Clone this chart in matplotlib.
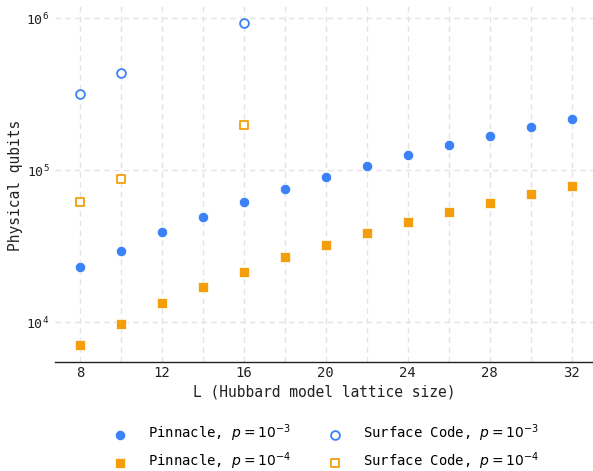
import math
import matplotlib
matplotlib.use("Agg")
import matplotlib.pyplot as plt
from matplotlib.ticker import FixedLocator, FuncFormatter, NullFormatter

plt.rcParams['font.family'] = ['DejaVu Sans Mono', 'DejaVu Sans']

L_all = [8, 10, 12, 14, 16, 18, 20, 22, 24, 26, 28, 30, 32]
pinnacle_e3 = [23200, 29600, 39300, 49100, 62200, 75000, 90800, 107200,
               126700, 146700, 169000, 191800, 217600]
pinnacle_e4 = [7060, 9790, 13400, 17000, 21500, 26900, 32300, 38700,
               45700, 52900, 60900, 70200, 79200]
L_surface = [8, 10, 16]
surface_e3 = [319000, 438600, 935000]
surface_e4 = [61900, 88100, 199500]

x_major = [8, 12, 16, 20, 24, 28, 32]
x_minor = [10, 14, 18, 22, 26, 30]
y_major = [1e4, 1e5, 1e6]

blue = '#3b82f6'
orange = '#f59e0b'

W, H = 593, 471
fig = plt.figure(figsize=(W / 100, H / 100), dpi=100)
ax = fig.add_axes([55 / W, 1 - 361.7 / H, 1 - 55 / W, (361.7 - 6) / H])

ax.scatter(L_all, pinnacle_e3, s=55, marker='o', color=blue, edgecolors='white',
           linewidths=0.5, label=r'Pinnacle, $p=10^{-3}$', zorder=3)
ax.scatter(L_all, pinnacle_e4, s=48, marker='s', color=orange, edgecolors='white',
           linewidths=0.5, label=r'Pinnacle, $p=10^{-4}$', zorder=3)
ax.scatter(L_surface, surface_e3, s=40, marker='o', facecolors='white', edgecolors=blue,
           linewidths=1.3, label=r'Surface Code, $p=10^{-3}$', zorder=3)
ax.scatter(L_surface, surface_e4, s=40, marker='s', facecolors='white', edgecolors=orange,
           linewidths=1.3, label=r'Surface Code, $p=10^{-4}$', zorder=3)

ax.set_yscale('log')
ax.set_xlim(6.78, 33.04)
ax.set_ylim(5510, 1.205e6)

ax.xaxis.set_major_locator(FixedLocator(x_major))
ax.xaxis.set_minor_locator(FixedLocator(x_minor))
ax.yaxis.set_major_locator(FixedLocator(y_major))
ax.yaxis.set_minor_locator(FixedLocator([]))
ax.yaxis.set_minor_formatter(NullFormatter())
ax.yaxis.set_major_formatter(FuncFormatter(
    lambda v, p: r'$\mathtt{10^{%d}}$' % round(math.log10(v))))

ax.grid(True, which='both', axis='x', color='#e3e3e3', linestyle=(0, (4, 3)), linewidth=1)
ax.grid(True, which='major', axis='y', color='#e3e3e3', linestyle=(0, (4, 3)), linewidth=1)
ax.set_axisbelow(True)

for s in ['top', 'right', 'left']:
    ax.spines[s].set_visible(False)
ax.spines['bottom'].set_color('#222222')
ax.spines['bottom'].set_linewidth(1.0)

ax.tick_params(axis='both', which='both', length=0, labelsize=10, colors='#222222')
ax.tick_params(axis='y', labelsize=9.5, pad=4)
ax.tick_params(axis='x', pad=3)

ax.set_xlabel('L (Hubbard model lattice size)', fontsize=10.5, color='#222222', labelpad=3)
ax.set_ylabel('Physical qubits', fontsize=10.5, color='#222222')
ax.yaxis.set_label_coords(-(55 - 23) / (W - 55), 1 - (185 - 6) / (361.7 - 6))

leg = fig.legend(loc='center', bbox_to_anchor=(323 / W, 1 - 447.5 / H), ncol=2, frameon=False,
                 fontsize=10, handletextpad=1.0, columnspacing=2.2, labelspacing=0.48,
                 markerscale=1.0)

fig.savefig('out.png', dpi=100)
